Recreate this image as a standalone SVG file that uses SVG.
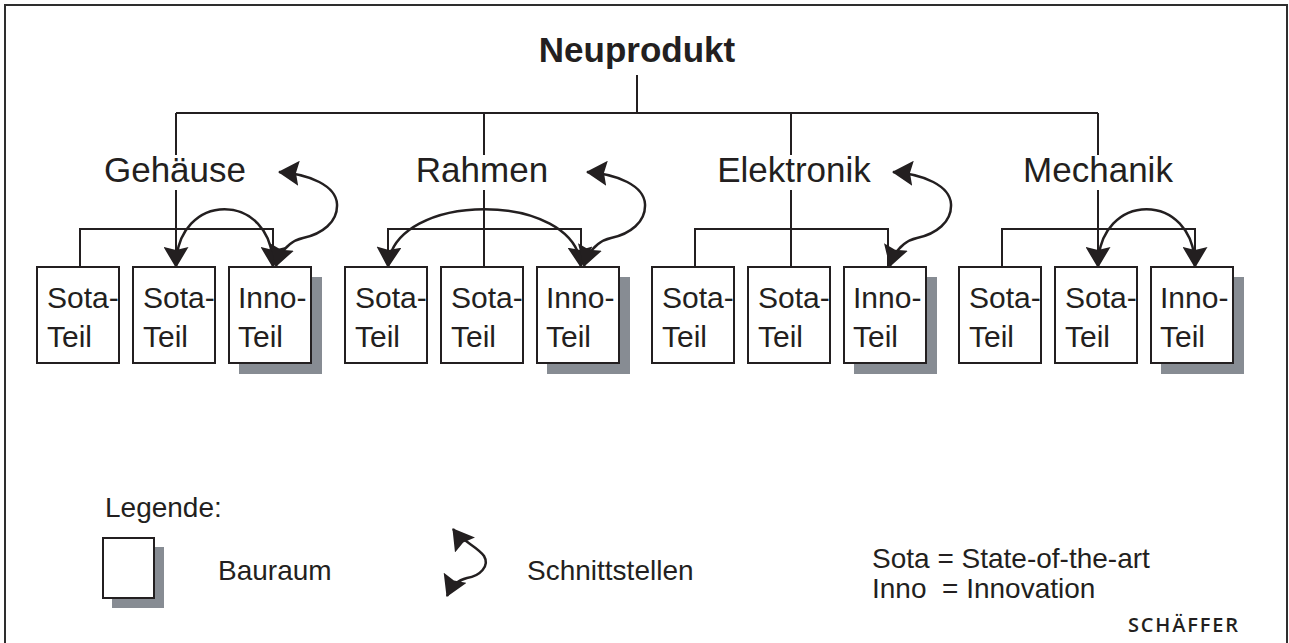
<svg xmlns="http://www.w3.org/2000/svg" width="1289" height="643" viewBox="0 0 1289 643">
  <defs>
    <style>
      .ln { fill: none; stroke: #231f20; stroke-width: 2; }
      .box { fill: #ffffff; stroke: #231f20; stroke-width: 2; }
      .shadow { fill: #878c93; }
      .t { font-family: "Liberation Sans", Arial, sans-serif; fill: #231f20; }
      .head { font-size: 35px; font-weight: bold; text-anchor: middle; }
      .grp { font-size: 35px; text-anchor: middle; }
      .part { font-size: 30px; }
      .leg { font-size: 28px; white-space: pre; }
      .arc { fill: none; stroke: #231f20; stroke-width: 2.5; marker-start: url(#ah); marker-end: url(#ah); }
    </style>
    <marker id="ah" viewBox="0 0 21 25" refX="20" refY="12.5" markerWidth="21" markerHeight="25" markerUnits="userSpaceOnUse" orient="auto-start-reverse">
      <path d="M0,0 L21,12.5 L0,25 L3,12.5 z" fill="#231f20"/>
    </marker>
  </defs>

  <rect width="1289" height="643" fill="#ffffff"/>
  <!-- outer frame, open at the bottom -->
  <path d="M5,650 V5 H1287 V650" fill="none" stroke="#2e2e2e" stroke-width="2"/>

  <!-- tree connectors and interface arrows -->
  <g id="connectors">
    <path class="ln" d="M637,75 V113 M176,113 H1098 M176,113 V155 M484,113 V155 M791,113 V155 M1098,113 V155"/>
    <!-- Gehäuse -->
    <path class="ln" d="M176,190 V267 M80,267 V229 H273 V267"/>
    <!-- Rahmen -->
    <path class="ln" d="M484,190 V267 M388,267 V229 H581 V267"/>
    <!-- Elektronik -->
    <path class="ln" d="M791,190 V267 M695,267 V229 H888 V267"/>
    <!-- Mechanik -->
    <path class="ln" d="M1098,190 V267 M1002,267 V229 H1195 V267"/>

    <!-- arcs between parts -->
    <path class="arc" d="M176,267 C176,190 273,190 273,267"/>
    <path class="arc" d="M388,267 C392,190 577,190 581,267"/>
    <path class="arc" d="M1098,267 C1098,190 1195,190 1195,267"/>

    <!-- loops from the Inno parts back to their group -->
    <path class="arc" d="M279,172 C310,174 336,186 337,204 C338,222 322,234 303,238 C290,241 281,250 276,266"/>
    <path class="arc" transform="translate(308,0)" d="M279,172 C310,174 336,186 337,204 C338,222 322,234 303,238 C290,241 281,250 276,266"/>
    <path class="arc" transform="translate(614,0)" d="M279,172 C310,174 336,186 337,204 C338,222 322,234 303,238 C290,241 281,250 276,266"/>
  </g>

  <g id="neuprodukt">
    <text class="t head" x="637" y="62">Neuprodukt</text>
  </g>

  <g id="gehaeuse">
    <text class="t grp" x="175" y="182">Gehäuse</text>
    <rect class="box" x="37" y="267" width="82" height="96"/>
    <text class="t part" x="47" y="308">Sota-</text><text class="t part" x="47" y="347">Teil</text>
    <rect class="box" x="133" y="267" width="82" height="96"/>
    <text class="t part" x="143" y="308">Sota-</text><text class="t part" x="143" y="347">Teil</text>
    <rect class="shadow" x="239" y="277" width="83" height="97"/>
    <rect class="box" x="229" y="267" width="82" height="96"/>
    <text class="t part" x="238" y="308">Inno-</text><text class="t part" x="238" y="347">Teil</text>
  </g>

  <g id="rahmen">
    <text class="t grp" x="482" y="182">Rahmen</text>
    <rect class="box" x="345" y="267" width="82" height="96"/>
    <text class="t part" x="355" y="308">Sota-</text><text class="t part" x="355" y="347">Teil</text>
    <rect class="box" x="441" y="267" width="82" height="96"/>
    <text class="t part" x="451" y="308">Sota-</text><text class="t part" x="451" y="347">Teil</text>
    <rect class="shadow" x="547" y="277" width="83" height="97"/>
    <rect class="box" x="537" y="267" width="82" height="96"/>
    <text class="t part" x="546" y="308">Inno-</text><text class="t part" x="546" y="347">Teil</text>
  </g>

  <g id="elektronik">
    <text class="t grp" x="794" y="182">Elektronik</text>
    <rect class="box" x="652" y="267" width="82" height="96"/>
    <text class="t part" x="662" y="308">Sota-</text><text class="t part" x="662" y="347">Teil</text>
    <rect class="box" x="748" y="267" width="82" height="96"/>
    <text class="t part" x="758" y="308">Sota-</text><text class="t part" x="758" y="347">Teil</text>
    <rect class="shadow" x="854" y="277" width="83" height="97"/>
    <rect class="box" x="844" y="267" width="82" height="96"/>
    <text class="t part" x="853" y="308">Inno-</text><text class="t part" x="853" y="347">Teil</text>
  </g>

  <g id="mechanik">
    <text class="t grp" x="1098" y="182">Mechanik</text>
    <rect class="box" x="959" y="267" width="82" height="96"/>
    <text class="t part" x="969" y="308">Sota-</text><text class="t part" x="969" y="347">Teil</text>
    <rect class="box" x="1055" y="267" width="82" height="96"/>
    <text class="t part" x="1065" y="308">Sota-</text><text class="t part" x="1065" y="347">Teil</text>
    <rect class="shadow" x="1161" y="277" width="83" height="97"/>
    <rect class="box" x="1151" y="267" width="82" height="96"/>
    <text class="t part" x="1160" y="308">Inno-</text><text class="t part" x="1160" y="347">Teil</text>
  </g>

  <g id="legend">
    <text class="t leg" x="105" y="517">Legende:</text>
    <rect class="shadow" x="112" y="547" width="52" height="61"/>
    <rect class="box" x="103" y="538" width="51" height="60"/>
    <text class="t leg" x="218" y="580">Bauraum</text>
    <path class="arc" d="M453,529 C462,541 478,547 484,556 C490,566 480,576 467,578 C458,580 451,587 447,596"/>
    <text class="t leg" x="527" y="580">Schnittstellen</text>
    <text class="t leg" x="872" y="568">Sota = State-of-the-art</text>
    <text class="t leg" x="872" y="598">Inno  = Innovation</text>
  </g>

  <g id="credit">
    <text x="1128" y="632" font-family="'Open Sans', sans-serif" font-size="20" font-weight="600" fill="#231f20" textLength="110" lengthAdjust="spacing">SCHÄFFER</text>
  </g>
</svg>
